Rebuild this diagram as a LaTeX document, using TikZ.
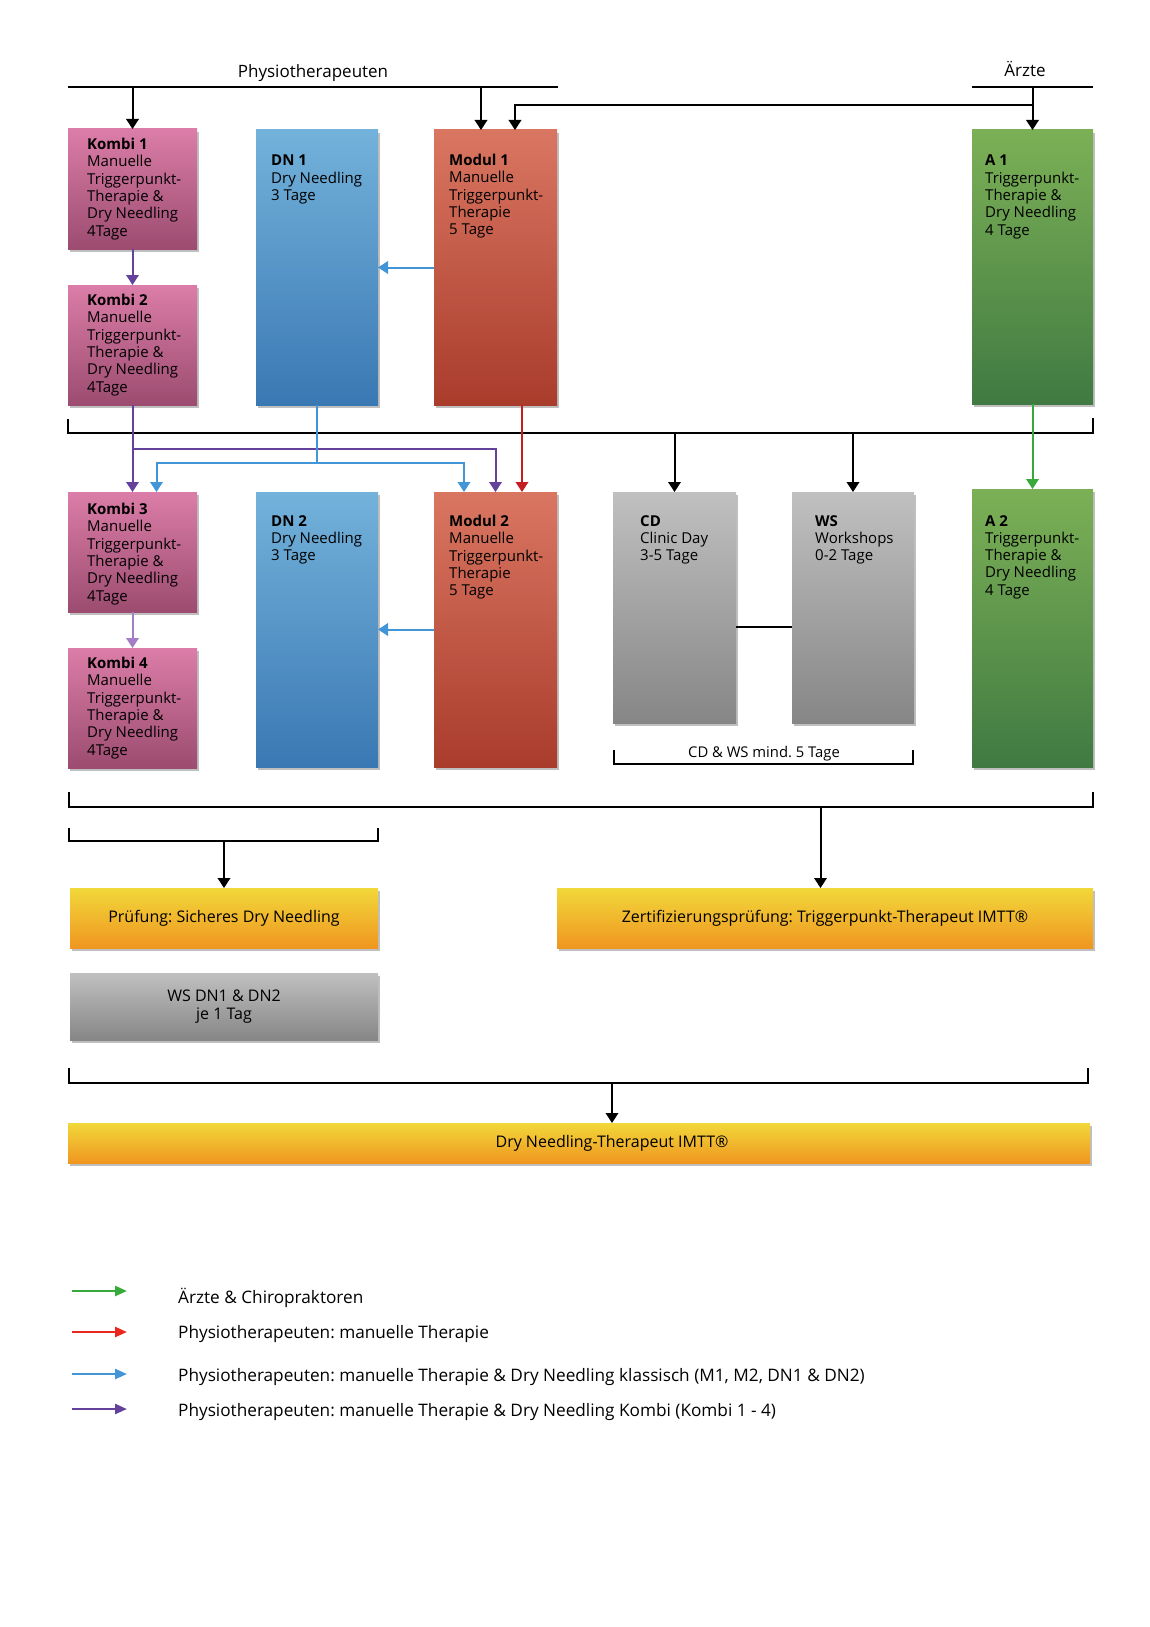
\documentclass[tikz,border=0pt]{standalone}
\usepackage{fontspec}
\setmainfont{Open Sans}
\frenchspacing
\usetikzlibrary{positioning,arrows.meta,calc,shadows}

\definecolor{kombiTop}{RGB}{219,125,168}
\definecolor{kombiBot}{RGB}{156,76,112}
\definecolor{dnTop}{RGB}{115,178,218}
\definecolor{dnBot}{RGB}{58,120,180}
\definecolor{modTop}{RGB}{217,118,98}
\definecolor{modBot}{RGB}{170,60,44}
\definecolor{aTop}{RGB}{124,176,86}
\definecolor{aBot}{RGB}{64,122,66}
\definecolor{grayTop}{RGB}{192,192,192}
\definecolor{grayBot}{RGB}{134,134,134}
\definecolor{examTop}{RGB}{241,216,58}
\definecolor{examBot}{RGB}{240,150,32}
\definecolor{lnPurple}{RGB}{100,66,156}
\definecolor{lnLilac}{RGB}{164,126,196}
\definecolor{lnBlue}{RGB}{66,150,215}
\definecolor{lnRed}{RGB}{196,30,32}
\definecolor{lnGreen}{RGB}{56,170,60}
\definecolor{lgRed}{RGB}{232,40,30}

\tikzset{
  course/.style={anchor=north west, inner sep=0pt, outer sep=0pt,
    drop shadow={shadow xshift=2pt, shadow yshift=-3pt, opacity=0.25, fill=black}},
  kombi/.style={course, minimum width=129pt, minimum height=120pt,
    top color=kombiTop, bottom color=kombiBot},
  needling/.style={course, minimum width=122pt, minimum height=275pt,
    top color=dnTop, bottom color=dnBot},
  manual/.style={course, minimum width=123pt, minimum height=275pt,
    top color=modTop, bottom color=modBot},
  arzt/.style={course, minimum width=121pt, top color=aTop, bottom color=aBot},
  extra/.style={course, minimum width=123pt, minimum height=231pt,
    top color=grayTop, bottom color=grayBot},
  exam/.style={course, top color=examTop, bottom color=examBot,
    font=\fontsize{16}{18}\selectfont, align=center},
  boxtext/.style={inner sep=0pt, align=left, font=\fontsize{15}{17.3}\selectfont},
  examtext/.style={inner sep=0pt, align=center, font=\fontsize{16}{18}\selectfont},
  head/.style={anchor=base, inner sep=0pt, font=\fontsize{17}{20}\selectfont},
  legtext/.style={anchor=base west, inner sep=0pt, font=\fontsize{17.2}{20}\selectfont},
  bar/.style={line width=2.2pt},
  flow/.style={-{Triangle[length=10pt, width=12.5pt]}, line width=2pt},
  kflow/.style={flow, lnPurple},
  cflow/.style={flow, lnBlue},
  mflow/.style={flow, lnRed},
  aflow/.style={flow, lnGreen},
  legarrow/.style={-{Triangle[length=12pt, width=10pt]}, line width=2.4pt},
}

\begin{document}
\begin{tikzpicture}[x=1pt, y=-1pt]
  \useasboundingbox (0,0) rectangle (1150,1627);
  % target groups
  \coordinate (physL) at (68,87);
  \coordinate (physR) at (558,87);
  \coordinate (aeL) at (972,87);
  \coordinate (aeR) at (1093,87);
  \draw[bar] (physL) -- (physR);
  \draw[bar] (aeL) -- (aeR);
  \node[head] (physlbl) at (313,78) {Physiotherapeuten};
  \node[head] (aelbl) at (1025,77) {Ärzte};
  % first row
  \node[kombi] (kombi1) at (68,129) {};
  \node[kombi, below=36pt of kombi1] (kombi2) {};
  \node[needling] (dn1) at (256,130) {};
  \node[manual] (modul1) at (434,130) {};
  \node[arzt, minimum height=274pt] (a1) at (972,130) {};
  \node[boxtext, below right=9pt and 19pt of kombi1.north west] (kombi1txt)
    {\textbf{Kombi 1}\\Manuelle\\Triggerpunkt-\\Therapie \&\\Dry Needling\\4Tage};
  \node[boxtext, below right=9pt and 19pt of kombi2.north west] (kombi2txt)
    {\textbf{Kombi 2}\\Manuelle\\Triggerpunkt-\\Therapie \&\\Dry Needling\\4Tage};
  \node[boxtext, below right=25pt and 15pt of dn1.north west] (dn1txt)
    {\textbf{DN 1}\\Dry Needling\\3 Tage};
  \node[boxtext, below right=24pt and 15pt of modul1.north west] (modul1txt)
    {\textbf{Modul 1}\\Manuelle\\Triggerpunkt-\\Therapie\\5 Tage};
  \node[boxtext, below right=25pt and 13pt of a1.north west] (a1txt)
    {\textbf{A 1}\\Triggerpunkt-\\Therapie \&\\Dry Needling\\4 Tage};
  % second row
  \node[kombi] (kombi3) at (68,492) {};
  \node[kombi, below=36pt of kombi3] (kombi4) {};
  \node[needling] (dn2) at (256,492) {};
  \node[manual] (modul2) at (434,492) {};
  \node[extra] (cd) at (613,492) {};
  \node[extra, minimum width=122pt] (ws) at (792,492) {};
  \node[arzt, minimum height=278pt] (a2) at (972,489) {};
  \node[boxtext, below right=11pt and 19pt of kombi3.north west] (kombi3txt)
    {\textbf{Kombi 3}\\Manuelle\\Triggerpunkt-\\Therapie \&\\Dry Needling\\4Tage};
  \node[boxtext, below right=9pt and 19pt of kombi4.north west] (kombi4txt)
    {\textbf{Kombi 4}\\Manuelle\\Triggerpunkt-\\Therapie \&\\Dry Needling\\4Tage};
  \node[boxtext, below right=23pt and 15pt of dn2.north west] (dn2txt)
    {\textbf{DN 2}\\Dry Needling\\3 Tage};
  \node[boxtext, below right=23pt and 15pt of modul2.north west] (modul2txt)
    {\textbf{Modul 2}\\Manuelle\\Triggerpunkt-\\Therapie\\5 Tage};
  \node[boxtext, below right=23pt and 27pt of cd.north west] (cdtxt)
    {\textbf{CD}\\Clinic Day\\3-5 Tage};
  \node[boxtext, below right=23pt and 23pt of ws.north west] (wstxt)
    {\textbf{WS}\\Workshops\\0-2 Tage};
  \node[boxtext, below right=26pt and 13pt of a2.north west] (a2txt)
    {\textbf{A 2}\\Triggerpunkt-\\Therapie \&\\Dry Needling\\4 Tage};
  % exams
  \node[exam, minimum width=308pt, minimum height=60pt] (pruef) at (70,888)
    {Prüfung: Sicheres Dry Needling};
  \node[exam, minimum width=536pt, minimum height=60pt] (zert) at (557,888)
    {Zertifizierungsprüfung: Triggerpunkt-Therapeut IMTT®};
  \node[course, minimum width=308pt, minimum height=67pt, top color=grayTop,
    bottom color=grayBot, examtext] (wsdn) at (70,973) {WS DN1 \& DN2\\je 1 Tag};
  \node[exam, minimum width=1022pt, minimum height=40pt] (dnth) at (68,1123) {};
  % entry arrows
  \coordinate (m1a) at ($(modul1.north)+(-14.5pt,0)$);
  \coordinate (m1b) at ($(modul1.north)+(19.5pt,0)$);
  \coordinate (aejoin) at (a1.north |- 0,105);
  \draw[flow] (kombi1.north |- physL) -- (kombi1.north);
  \draw[flow] (m1a |- physL) -- (m1a);
  \draw[flow] (a1.north |- aeL) -- (a1.north);
  \draw[flow] (aejoin) -| (m1b);
  % row bracket
  \coordinate (row1L) at (68,433);
  \coordinate (row1R) at (1093,433);
  \draw[bar] ($(row1L)+(0,14pt)$) -- (row1L) -- (row1R) -- ++(0,15pt);
  \draw[flow] (cd.north |- row1L) -- (cd.north);
  \draw[flow] (ws.north |- row1L) -- (ws.north);
  % kombi path
  \coordinate (kombisplit) at (kombi2.south |- 0,449);
  \draw[kflow] (kombi1) -- (kombi2);
  \draw[kflow] (kombi2) -- (kombi3);
  \draw[kflow] (kombisplit) -| (modul2.north);
  \draw[flow, lnLilac] (kombi3) -- (kombi4);
  % classic path
  \coordinate (dnsplit) at (dn1.south |- 0,463);
  \coordinate (k3in) at ($(kombi3.north)+(24pt,0)$);
  \coordinate (m2in) at ($(modul2.north)+(-31.5pt,0)$);
  \draw[cflow] (modul1.west) -- (dn1.east);
  \draw[cflow] (modul2.west) -- (dn2.east);
  \draw[lnBlue, line width=2pt] (dn1.south) -- (dnsplit);
  \draw[cflow] (dnsplit) -| (k3in);
  \draw[cflow] (dnsplit) -| (m2in);
  % manual path
  \coordinate (m1red) at ($(modul1.south)+(26.5pt,0)$);
  \draw[mflow] (m1red) -- (m1red |- modul2.north);
  % aerzte path
  \draw[aflow] (a1) -- (a2);
  % clinic day and workshops
  \draw[line width=2pt] (cd.east |- 0,627) -- (ws.west |- 0,627);
  \coordinate (cdwsL) at (614,764);
  \coordinate (cdwsR) at (913,764);
  \draw[bar] ($(cdwsL)+(0,14pt)$) -- (cdwsL) -- (cdwsR) -- ++(0,14pt);
  \node[boxtext, anchor=base, font=\fontsize{14.8}{17}\selectfont] (cdwslbl) at (764,757) {CD \& WS mind. 5 Tage};
  % exam brackets
  \coordinate (row2L) at (69,807);
  \coordinate (row2R) at (1093,807);
  \draw[bar] ($(row2L)+(0,15pt)$) -- (row2L) -- (row2R) -- ++(0,15pt);
  \coordinate (dnL) at (69,841);
  \coordinate (dnR) at (378,841);
  \draw[bar] ($(dnL)+(0,13pt)$) -- (dnL) -- (dnR) -- ++(0,13pt);
  \coordinate (zertin) at ($(zert.north)+(-4.5pt,0)$);
  \draw[flow] (pruef.north |- dnL) -- (pruef.north);
  \draw[flow] (zertin |- row2L) -- (zertin);
  \coordinate (row3L) at (69,1083);
  \coordinate (row3R) at (1088,1083);
  \draw[bar] ($(row3L)+(0,15pt)$) -- (row3L) -- (row3R) -- ++(0,15pt);
  \coordinate (dnthin) at (612,1123);
  \draw[flow] (dnthin |- row3L) -- (dnthin);
  \node[examtext] (dnthtxt) at (dnthin |- dnth.center) {Dry Needling-Therapeut IMTT®};
  % legend
  \coordinate (lg1a) at (72,1291);  \coordinate (lg1b) at (127,1291);
  \coordinate (lg2a) at (72,1332);  \coordinate (lg2b) at (127,1332);
  \coordinate (lg3a) at (72,1374);  \coordinate (lg3b) at (127,1374);
  \coordinate (lg4a) at (72,1409);  \coordinate (lg4b) at (127,1409);
  \draw[legarrow, lnGreen] (lg1a) -- (lg1b);
  \draw[legarrow, lgRed] (lg2a) -- (lg2b);
  \draw[legarrow, lnBlue] (lg3a) -- (lg3b);
  \draw[legarrow, lnPurple] (lg4a) -- (lg4b);
  \node[legtext] (lg1txt) at (178,1303) {Ärzte \& Chiropraktoren};
  \node[legtext] (lg2txt) at (178,1338) {Physiotherapeuten: manuelle Therapie};
  \node[legtext] (lg3txt) at (178,1381) {Physiotherapeuten: manuelle Therapie \& Dry Needling klassisch (M1, M2, DN1 \& DN2)};
  \node[legtext] (lg4txt) at (178,1416) {Physiotherapeuten: manuelle Therapie \& Dry Needling Kombi (Kombi 1 - 4)};
\end{tikzpicture}
\end{document}
